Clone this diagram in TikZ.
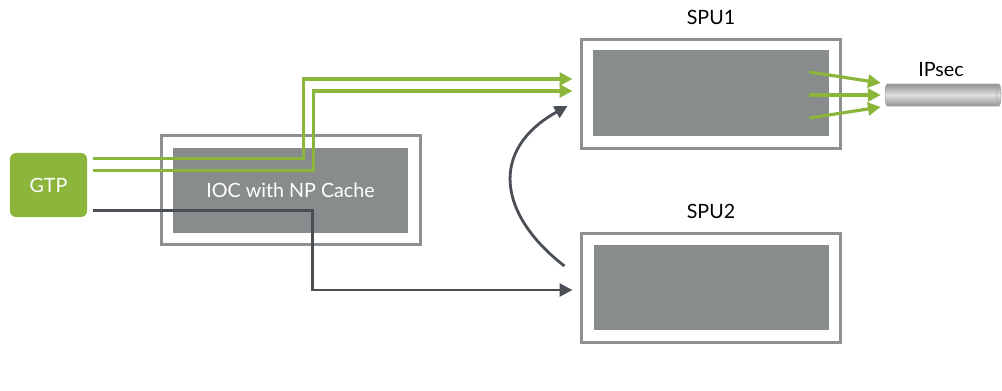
\documentclass[tikz,border=0pt]{standalone}
\usepackage{fontspec}
\setmainfont{Lato}
\usetikzlibrary{shapes.geometric, arrows.meta, positioning}

\definecolor{gtpgreen}{HTML}{8CB53B}
\definecolor{framegray}{HTML}{8C9091}
\definecolor{boxgray}{HTML}{888C8D}
\definecolor{linegray}{HTML}{4A4E55}

\begin{document}
\begin{tikzpicture}[x=0.025cm, y=-0.025cm,
    gtpbox/.style={rectangle, fill=gtpgreen, rounded corners=0.15cm, minimum width=1.925cm, minimum height=1.6cm, text=white, font=\fontsize{14}{16}\selectfont},
    frame/.style={rectangle, draw=framegray, line width=0.075cm, minimum width=6.475cm, minimum height=2.725cm},
    inbox/.style={rectangle, fill=boxgray, minimum width=5.875cm, minimum height=2.125cm, text=white, font=\fontsize{14}{16}\selectfont},
    lbl/.style={font=\fontsize{14}{16}\selectfont, text=black},
    flow/.style={draw=gtpgreen, line width=0.08cm, -{Triangle[length=0.32cm, width=0.32cm]}},
    darkflow/.style={draw=linegray, line width=0.07cm, -{Triangle[length=0.32cm, width=0.32cm]}},
    tube/.style={cylinder, shape aspect=0.45, minimum height=2.9cm, minimum width=0.55cm, draw=gray!70, thin, top color=gray!85, bottom color=gray!85, middle color=gray!25}]
    \useasboundingbox (0,0) rectangle (1002,390);

    % boxes
    \node [gtpbox] (gtp) at (48.5,185) {GTP};
    \node [frame] (ioc) at (291,190) {};
    \node [inbox] (iocin) at (290.5,190.5) {IOC with NP Cache};
    \node [frame] (spu1) at (711,94) {};
    \node [inbox, minimum width=5.9cm, minimum height=2.15cm] (spu1in) at (711,93) {};
    \node [frame] (spu2) at (711,288) {};
    \node [inbox] (spu2in) at (711.5,287.5) {};
    \node [lbl, above=0.22cm of spu1] (spu1lbl) {SPU1};
    \node [lbl, above=0.22cm of spu2] (spu2lbl) {SPU2};
    \node [tube] (ipsec) at (941,95) {};
    \node [lbl, above=0.05cm of ipsec] (ipseclbl) {IPsec};

    % connectors
    \draw [flow] ([shift={(6,6)}]gtp.north east) -- ++(210,0) |- ([shift={(-7.5,-15)}]spu1.west);
    \draw [flow] ([shift={(6,18)}]gtp.north east) -- ++(220,0) |- ([shift={(-7.5,-3)}]spu1.west);
    \draw [darkflow] ([shift={(6,-7)}]gtp.south east) -- ++(219,0) |- ([shift={(-7.5,2)}]spu2.west);
    \draw [darkflow] ([shift={(-15.5,-22)}]spu2.west) .. controls +(-66,-51) and +(-79,44) .. ([shift={(-12.5,12)}]spu1.west);
    \foreach \s/\e in {-21/-12, 2/0, 25/12}
        \draw [flow] ([shift={(-20,\s)}]spu1in.east) -- ([shift={(-4,\e)}]ipsec.west);
\end{tikzpicture}
\end{document}
